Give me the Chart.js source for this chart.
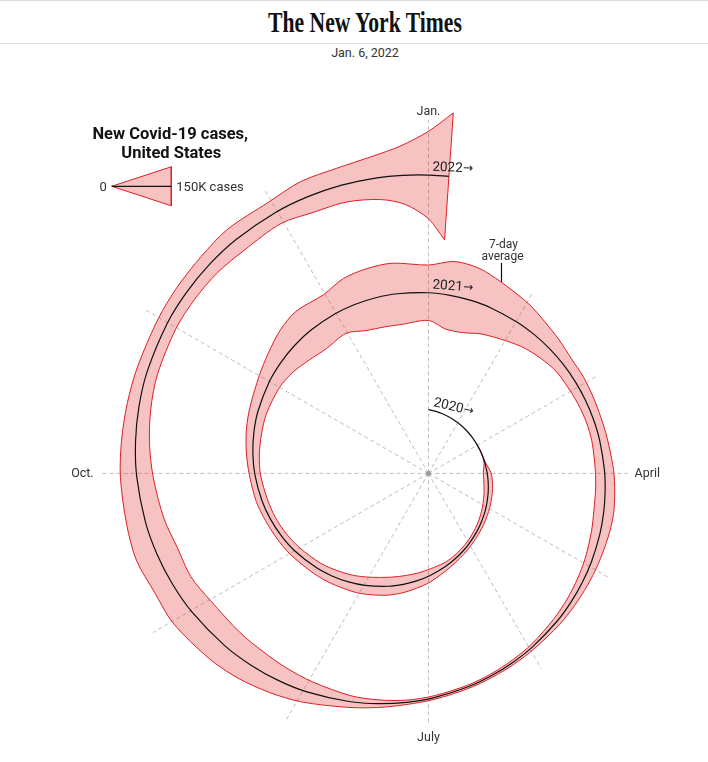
<!DOCTYPE html>
<html>
<head>
<meta charset="utf-8">
<title>New Covid-19 cases, United States</title>
<script src="https://cdn.jsdelivr.net/npm/chart.js@4.4.1/dist/chart.umd.min.js"></script>
<style>
  html, body { margin: 0; padding: 0; background: #fff; }
  body { width: 708px; height: 762px; position: relative; overflow: hidden; font-family: Roboto, "Liberation Sans", Arial, sans-serif; }
  .topline { position: absolute; left: 0; top: 0; width: 708px; height: 1px; background: #dcdcdc; }
  #logo { position: absolute; left: 365px; top: 6px; font: bold 29px "Liberation Serif", "DejaVu Serif", serif; color: #111; white-space: nowrap; transform-origin: center top; }
  .divider { position: absolute; left: 0; top: 43px; width: 708px; height: 1px; background: #dedede; }
  #date { position: absolute; left: 365px; top: 45px; transform: translateX(-50%); font-size: 12.5px; color: #333; white-space: nowrap; }
  #chart { position: absolute; left: 0; top: 0; }
</style>
</head>
<body>
<div class="topline"></div>
<div id="logo">The New York Times</div>
<div class="divider"></div>
<div id="date">Jan. 6, 2022</div>
<canvas id="chart" width="708" height="762"></canvas>
<script>
// 7-day average of new cases, thousands
const dates = [
  "2020-01-01", "2020-01-08", "2020-01-15", "2020-01-22",
  "2020-02-01", "2020-02-08", "2020-02-15", "2020-02-22",
  "2020-03-01", "2020-03-08", "2020-03-15", "2020-03-22",
  "2020-04-01", "2020-04-08", "2020-04-15", "2020-04-22",
  "2020-05-01", "2020-05-08", "2020-05-15", "2020-05-22",
  "2020-06-01", "2020-06-08", "2020-06-15", "2020-06-22",
  "2020-07-01", "2020-07-08", "2020-07-15", "2020-07-22",
  "2020-08-01", "2020-08-08", "2020-08-15", "2020-08-22",
  "2020-09-01", "2020-09-08", "2020-09-15", "2020-09-22",
  "2020-10-01", "2020-10-08", "2020-10-15", "2020-10-22",
  "2020-11-01", "2020-11-08", "2020-11-15", "2020-11-22",
  "2020-12-01", "2020-12-08", "2020-12-15", "2020-12-22",
  "2021-01-01", "2021-01-08", "2021-01-15", "2021-01-22",
  "2021-02-01", "2021-02-08", "2021-02-15", "2021-02-22",
  "2021-03-01", "2021-03-08", "2021-03-15", "2021-03-22",
  "2021-04-01", "2021-04-08", "2021-04-15", "2021-04-22",
  "2021-05-01", "2021-05-08", "2021-05-15", "2021-05-22",
  "2021-06-01", "2021-06-08", "2021-06-15", "2021-06-22",
  "2021-07-01", "2021-07-08", "2021-07-15", "2021-07-22",
  "2021-08-01", "2021-08-08", "2021-08-15", "2021-08-22",
  "2021-09-01", "2021-09-08", "2021-09-15", "2021-09-22",
  "2021-10-01", "2021-10-08", "2021-10-15", "2021-10-22",
  "2021-11-01", "2021-11-08", "2021-11-15", "2021-11-22",
  "2021-12-01", "2021-12-08", "2021-12-15", "2021-12-22",
  "2021-12-27", "2022-01-01", "2022-01-05"
];
const newCases = [
  0, 0, 0, 0,
  0, 0, 0, 0,
  0, 0.1, 0.6, 6,
  30, 33, 34, 32,
  30, 27, 25, 23,
  22, 23, 25, 32,
  50, 59, 69, 74,
  72, 63, 57, 49,
  45, 41, 40, 44,
  43, 50, 60, 68,
  90, 120, 160, 185,
  172, 218, 234, 238,
  213, 262, 255, 214,
  166, 128, 100, 76,
  72, 64, 59, 60,
  70, 74, 77, 68,
  55, 46, 38, 31,
  20, 17, 14, 13,
  14, 17, 30, 47,
  88, 115, 140, 155,
  168, 152, 165, 145,
  126, 108, 93, 82,
  78, 82, 88, 103,
  95, 128, 135, 170,
  225, 336, 489
];
const monthLabels = ["Jan.", "April", "July", "Oct."];
const monthSpokes = [0, 3, 6, 9];
const yearLabels = ["2020", "2021", "2022"];
const legendValue = 150;
const legendText = "150K cases";
const annotationDate = "2021-01-22";

// geometry of the spiral (chart units are screen pixels)
const TAU = Math.PI * 2;
const spiralCenter = { x: -29, y: 4.7 };
const startRadius = 57.6;
const radiusPerTurn = 118.8;
const pxPerThousand = 0.262;
const legendTip = { x: -319, y: 289 };
const legendLength = 60;
const curveTension = 0.3;

const turnsFor = (s) => {
  const [y, m, d] = s.split("-").map(Number);
  const t = Date.UTC(y, m - 1, d);
  const y0 = Date.UTC(y, 0, 1);
  const y1 = Date.UTC(y + 1, 0, 1);
  return (y - 2020) + (t - y0) / (y1 - y0);
};
const radiusAt = (phi) => startRadius + radiusPerTurn * phi / TAU;
const polar = (phi, r) => ({
  x: spiralCenter.x + r * Math.sin(phi),
  y: spiralCenter.y + r * Math.cos(phi)
});

// the date sets the angle round the spoke centre; find where the spiral crosses that spoke
const phiForTurns = (turns) => {
  const theta = turns * TAU;
  let phi = theta;
  for (let i = 0; i < 40; i++) {
    const p = polar(phi, radiusAt(phi));
    let d = theta - Math.atan2(p.x, p.y);
    d = ((d % TAU) + TAU + Math.PI) % TAU - Math.PI;
    phi += d;
  }
  return phi;
};

// push a point along its spoke (away from the centre dot)
const alongSpoke = (p, d) => {
  const len = Math.hypot(p.x, p.y);
  return { x: p.x * (len + d) / len, y: p.y * (len + d) / len };
};

const rows = dates.map((d, i) => {
  const phi = phiForTurns(turnsFor(d));
  return { phi, p: polar(phi, radiusAt(phi)), half: newCases[i] * pxPerThousand / 2 };
});
const centerLine = rows.map((row) => row.p);
const firstIdx = Math.max(0, newCases.findIndex((v) => v > 0) - 1);
const bandRows = rows.slice(firstIdx);
const outerEdge = bandRows.map((row) => alongSpoke(row.p, row.half));
const innerEdge = bandRows.map((row) => alongSpoke(row.p, -row.half)).reverse();
// repeat the two corners of the end cap so the smoothing keeps them sharp
const bandShape = outerEdge.concat([outerEdge[outerEdge.length - 1], innerEdge[0]], innerEdge);

const rayHit = (a, pts) => {
  const dx = Math.sin(a), dy = Math.cos(a);
  let best = 0;
  for (let i = 0; i < pts.length; i++) {
    const p = pts[i], q = pts[(i + 1) % pts.length];
    const ex = q.x - p.x, ey = q.y - p.y;
    const den = dx * ey - dy * ex;
    if (Math.abs(den) < 1e-9) continue;
    const t = (p.x * ey - p.y * ex) / den;
    const s = (p.x * dy - p.y * dx) / den;
    if (t > 0 && s >= 0 && s <= 1) best = Math.max(best, t);
  }
  return best;
};

const spokeEnds = [];
for (let i = 0; i < 12; i++) {
  const a = i * TAU / 12;
  const gap = 17 - 5.5 * Math.cos(a) - 3 * Math.sin(a);
  const len = rayHit(a, bandShape) + gap;
  spokeEnds.push({ x: len * Math.sin(a), y: len * Math.cos(a) });
}

const legendHalf = legendValue * pxPerThousand / 2;
const legendBase = legendTip.x + legendLength;

const lineDs = (data, extra) => Object.assign({
  data,
  showLine: true,
  pointRadius: 0,
  pointHoverRadius: 0,
  pointHitRadius: 0,
  fill: false,
  tension: 0
}, extra);

const bandStyle = {
  borderColor: "#dc1f25",
  borderWidth: 1,
  backgroundColor: "rgba(220, 30, 30, 0.27)",
  fill: "shape"
};

const datasets = [
  lineDs(centerLine, { borderColor: "#111", borderWidth: 1.2, tension: curveTension }),
  lineDs([legendTip, { x: legendBase, y: legendTip.y }], { borderColor: "#111", borderWidth: 1.2 }),
  lineDs(bandShape, Object.assign({}, bandStyle, { tension: curveTension })),
  lineDs([legendTip, { x: legendBase, y: legendTip.y + legendHalf }, { x: legendBase, y: legendTip.y - legendHalf }, legendTip], bandStyle),
  { data: [{ x: 0, y: 0 }], pointRadius: 2.5, pointBackgroundColor: "#9a9a9a", pointBorderWidth: 0, pointHoverRadius: 0 }
];
spokeEnds.forEach((e) => {
  datasets.push(lineDs([{ x: 0, y: 0 }, e], { borderColor: "#bdbdbd", borderWidth: 1, borderDash: [4, 3] }));
});

const FONT = 'Roboto, "Liberation Sans", Arial, sans-serif';

const labelPlugin = {
  id: "spiralLabels",
  afterDatasetsDraw(chart) {
    const { ctx } = chart;
    const X = (v) => chart.scales.x.getPixelForValue(v);
    const Y = (v) => chart.scales.y.getPixelForValue(v);
    ctx.save();

    // month labels at the ends of the spokes
    ctx.fillStyle = "#333";
    ctx.font = "12.5px " + FONT;
    monthLabels.forEach((label, i) => {
      const a = monthSpokes[i] * TAU / 12;
      const dx = Math.sin(a), dy = Math.cos(a);
      const e = spokeEnds[monthSpokes[i]];
      ctx.textAlign = dx > 0.5 ? "left" : dx < -0.5 ? "right" : "center";
      ctx.textBaseline = dy > 0.5 ? "alphabetic" : dy < -0.5 ? "top" : "middle";
      const off = dy < -0.5 ? 9 : dy > 0.5 ? 5 : 7;
      ctx.fillText(label, X(e.x) + off * dx, Y(e.y) - off * dy);
    });

    // year labels just after Jan. 1, following the line
    ctx.fillStyle = "#222";
    ctx.textAlign = "left";
    ctx.textBaseline = "alphabetic";
    yearLabels.forEach((label, k) => {
      const p0 = polar(phiForTurns(k), radiusAt(phiForTurns(k)));
      const rho = Math.hypot(p0.x, p0.y);
      const phi = phiForTurns(k + Math.asin(3.5 / rho) / TAU);
      const r = radiusAt(phi);
      const p = polar(phi, r);
      const dr = radiusPerTurn / TAU;
      const tx = dr * Math.sin(phi) + r * Math.cos(phi);
      const ty = dr * Math.cos(phi) - r * Math.sin(phi);
      ctx.save();
      ctx.translate(X(p.x), Y(p.y));
      ctx.rotate(Math.atan2(-ty, tx));
      ctx.font = "13.5px " + FONT;
      ctx.fillText(label, 0, -4.5);
      const w = ctx.measureText(label).width;
      ctx.font = '12px "DejaVu Sans", sans-serif';
      ctx.fillText("\u2192", w + 0.5, -5);
      ctx.restore();
    });

    // "7-day average" pointer
    const ai = dates.indexOf(annotationDate);
    const ap = alongSpoke(rows[ai].p, rows[ai].half);
    const ax = Math.round(X(ap.x)) + 0.5, ay = Y(ap.y);
    ctx.strokeStyle = "#111";
    ctx.lineWidth = 1.2;
    ctx.beginPath();
    ctx.moveTo(ax, ay);
    ctx.lineTo(ax, ay - 19);
    ctx.stroke();
    ctx.font = "12px " + FONT;
    ctx.fillStyle = "#333";
    ctx.textAlign = "center";
    ctx.fillText("average", ax + 1, ay - 22);
    ctx.fillText("7-day", ax + 2, ay - 34);

    // legend
    ctx.font = "bold 16.5px " + FONT;
    ctx.fillStyle = "#121212";
    ctx.textAlign = "center";
    ctx.fillText("New Covid-19 cases,", X(legendTip.x + 59), Y(legendTip.y) - 47);
    ctx.fillText("United States", X(legendTip.x + 60), Y(legendTip.y) - 28);
    ctx.font = "13px " + FONT;
    ctx.fillStyle = "#333";
    ctx.textBaseline = "middle";
    ctx.textAlign = "right";
    ctx.fillText("0", X(legendTip.x) - 5, Y(legendTip.y) + 1);
    ctx.textAlign = "left";
    ctx.fillText(legendText, X(legendBase) + 5, Y(legendTip.y) + 1);

    ctx.restore();
  }
};

new Chart(document.getElementById("chart").getContext("2d"), {
  type: "scatter",
  data: { datasets },
  options: {
    responsive: false,
    animation: false,
    layout: { padding: 0 },
    scales: {
      x: { type: "linear", min: -429, max: 279, display: false },
      y: { type: "linear", min: -288, max: 474, display: false }
    },
    plugins: { legend: { display: false }, tooltip: { enabled: false } },
    events: []
  },
  plugins: [labelPlugin]
});

const logo = document.getElementById("logo");
logo.style.transform = "translateX(-50%) scaleX(" + (194 / logo.offsetWidth) + ")";
</script>
</body>
</html>
